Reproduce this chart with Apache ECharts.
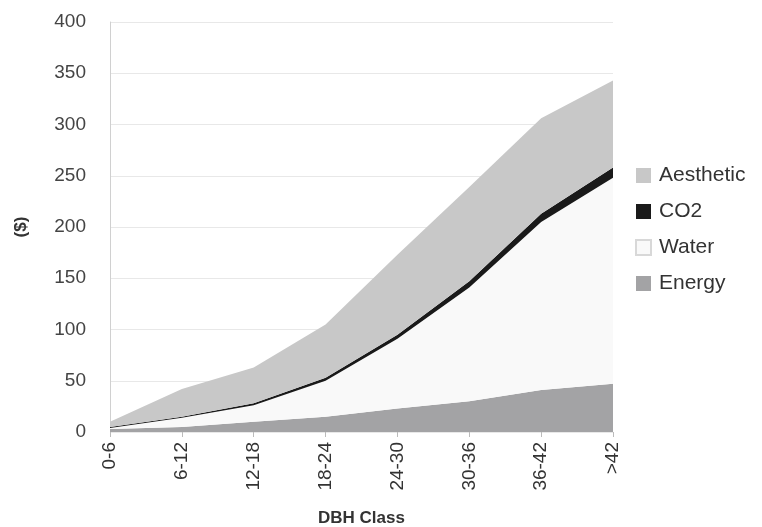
<!DOCTYPE html>
<html>
<head>
<meta charset="utf-8">
<script src="https://cdn.jsdelivr.net/npm/echarts@6/dist/echarts.min.js"></script>
<style>
html,body{margin:0;padding:0;background:#fff;}
#chart{width:762px;height:527px;}
</style>
</head>
<body>
<div id="chart"></div>
<script>
var categories = ['0-6','6-12','12-18','18-24','24-30','30-36','36-42','>42'];
var energy    = [3, 5, 10, 15, 23, 30, 41, 47];
var water     = [1, 9, 16, 35, 68, 111, 164, 201];
var co2       = [1, 1, 2, 3, 4, 6, 8, 10];
var aesthetic = [5, 27, 35, 52, 78, 92, 93, 85];
var yTicks = [0, 50, 100, 150, 200, 250, 300, 350, 400];

var FONT = 'Liberation Sans, Arial, sans-serif';
var chart = echarts.init(document.getElementById('chart'));
function areaSeries(name, data, color, border) {
  return {
    name: name, type: 'line', stack: 'total', data: data,
    symbol: 'none', showSymbol: false,
    lineStyle: { width: 0 },
    itemStyle: { color: color, borderColor: border || color, borderWidth: border ? 1 : 0 },
    areaStyle: { color: color, opacity: 1 },
    emphasis: { disabled: true }
  };
}
chart.setOption({
  animation: false,
  backgroundColor: '#ffffff',
  grid: { left: 110, right: 149, top: 22, bottom: 95, containLabel: false, outerBoundsMode: 'none' },
  legend: {
    orient: 'vertical', left: 630, top: 160,
    itemWidth: 15, itemHeight: 15, itemGap: 15,
    icon: 'rect',
    data: ['Aesthetic', 'CO2', 'Water', 'Energy'],
    textStyle: { fontFamily: FONT, fontSize: 21, color: '#333', padding: [0, 0, 0, 3] }
  },
  xAxis: {
    type: 'category', data: categories, boundaryGap: false,
    name: 'DBH Class', nameLocation: 'middle', nameGap: 78,
    nameTextStyle: { fontFamily: FONT, fontSize: 17, fontWeight: 'bold', color: '#333' },
    axisLine: { show: false },
    axisTick: { show: true, alignWithLabel: true, length: 5, lineStyle: { color: '#bbb' } },
    axisLabel: { rotate: 90, margin: 10, fontFamily: FONT, fontSize: 19, color: '#333' }
  },
  yAxis: {
    type: 'value', min: yTicks[0], max: yTicks[yTicks.length - 1], interval: 50,
    name: '($)', nameLocation: 'middle', nameGap: 80, nameRotate: 90,
    nameTextStyle: { fontFamily: FONT, fontSize: 17, fontWeight: 'bold', color: '#333' },
    axisLine: { show: true, lineStyle: { color: '#d0d0d0' } },
    axisTick: { show: false },
    axisLabel: { margin: 24, fontFamily: FONT, fontSize: 19, color: '#444' },
    splitLine: { show: true, lineStyle: { color: '#e8e8e8' } }
  },
  series: [
    areaSeries('Energy', energy, '#a3a3a5'),
    areaSeries('Water', water, '#f9f9f9', '#d8d8d8'),
    areaSeries('CO2', co2, '#1a1a1a'),
    areaSeries('Aesthetic', aesthetic, '#c8c8c8')
  ]
});
</script>
</body>
</html>
